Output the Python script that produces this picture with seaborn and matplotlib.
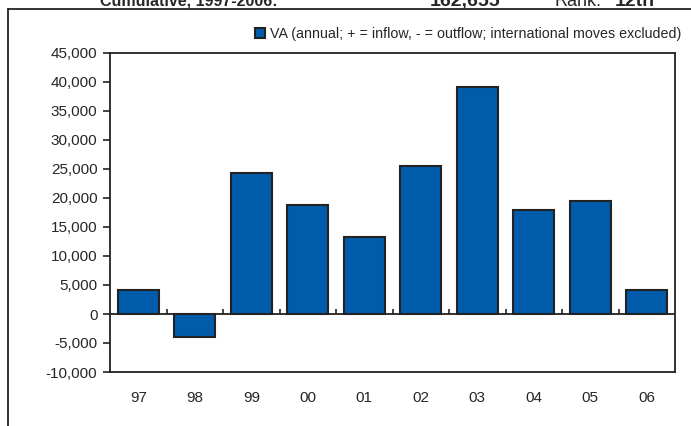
import numpy as np
import pandas as pd
import matplotlib
matplotlib.use('Agg')
import matplotlib.pyplot as plt
from matplotlib.lines import Line2D
import matplotlib.ticker as mticker
import seaborn as sns

# data
years = ['97', '98', '99', '00', '01', '02', '03', '04', '05', '06']
va_flow = [4150, -3900, 24300, 18800, 13200, 25500, 39200, 17900, 19400, 4200]
series_name = 'VA (annual; + = inflow, - = outflow; international moves excluded)'
header_left = 'Cumulative, 1997-2006:'
header_total = '162,655'
header_rank = '12th'

sns.set_style('white')
plt.rcParams['font.family'] = ['Liberation Sans', 'DejaVu Sans']

df = pd.DataFrame({'year': years, 'flow': va_flow})

fig = plt.figure(figsize=(6.91, 4.26), dpi=100)
ax = fig.add_axes([110/691, 1 - 372/426, 565/691, 319/426])

sns.barplot(data=df, x='year', y='flow', color='#005BAA', edgecolor='#222222',
            linewidth=1.5, width=0.72, saturation=1, ax=ax, label=series_name)

ax.set_ylim(-10000, 45000)
ax.set_xlim(-0.5, len(years) - 0.5)
ax.yaxis.set_major_locator(mticker.MultipleLocator(5000))
ax.yaxis.set_major_formatter(mticker.FuncFormatter(lambda v, p: f'{int(v):,}'))
ax.tick_params(axis='y', direction='out', length=5, width=1.2, color='#222222',
               labelsize=11, pad=4, left=True)
ax.tick_params(axis='x', length=0, labelsize=11, pad=14)
ax.set_xlabel('')
ax.set_ylabel('')

for s in ax.spines.values():
    s.set_visible(True)
    s.set_color('#222222')
    s.set_linewidth(1.3)

# zero line with small tick marks between categories
ax.axhline(0, color='#222222', lw=1.3, zorder=3)
ax.vlines(np.arange(0.5, len(years) - 0.5), 0, 900, color='#222222', lw=1.2, zorder=3)

ax.legend(loc='lower right', bbox_to_anchor=(1.021, 1.02), frameon=False, fontsize=10.3,
          handlelength=0.75, handleheight=0.75, handletextpad=0.3, borderaxespad=0)

# outer frame of the panel
fig.add_artist(Line2D([8/691, 8/691], [0, 1 - 9/426], transform=fig.transFigure,
                      color='#222222', lw=1.3))
fig.add_artist(Line2D([8/691, 1], [1 - 9/426, 1 - 9/426], transform=fig.transFigure,
                      color='#222222', lw=1.3))

# header row, clipped at the top edge as in the original
yb = 1 - 6/426
fig.text(100/691, yb, header_left, fontsize=11.5, fontweight='bold', va='baseline')
fig.text(430/691, yb, header_total, fontsize=14, fontweight='bold', va='baseline')
fig.text(555/691, yb, 'Rank:', fontsize=13, va='baseline')
fig.text(615/691, yb, header_rank, fontsize=14, fontweight='bold', va='baseline')

fig.savefig('out.png', dpi=100)
